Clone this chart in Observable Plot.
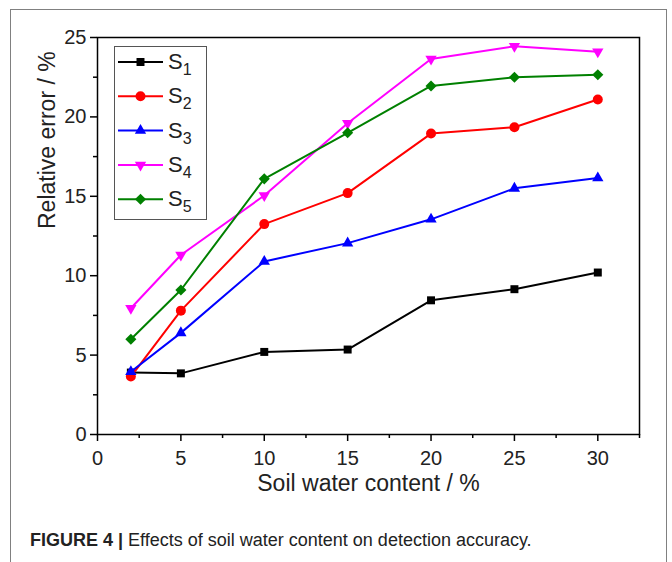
<!DOCTYPE html>
<html>
<head>
<meta charset="utf-8">
<script src="https://cdn.jsdelivr.net/npm/d3@7"></script>
<script src="https://cdn.jsdelivr.net/npm/@observablehq/plot@0.6"></script>
<style>
  html, body { margin: 0; padding: 0; background: #fff; }
  #wrap { position: relative; width: 672px; height: 562px; overflow: hidden; background: #fff; font-family: "Liberation Sans", Arial, sans-serif; }
  #border { position: absolute; left: 10px; top: 9px; width: 657px; height: 600px; border: 1px solid #808080; box-sizing: border-box; }
  #chart { position: absolute; left: 0; top: 0; }
  #caption { position: absolute; left: 30px; top: 530px; font-size: 18px; color: #222; white-space: nowrap; }
  #caption b { font-weight: bold; }
</style>
</head>
<body>
<div id="wrap">
  <div id="border"></div>
  <div id="chart"></div>
  <div id="caption"><b>FIGURE 4 |</b> Effects of soil water content on detection accuracy.</div>
</div>
<script>
// ---- data ----
const waterContent = [2, 5, 10, 15, 20, 25, 30];
const s1 = [3.9, 3.85, 5.2, 5.35, 8.45, 9.15, 10.2];
const s2 = [3.65, 7.8, 13.25, 15.2, 18.95, 19.35, 21.1];
const s3 = [3.95, 6.4, 10.9, 12.05, 13.55, 15.5, 16.15];
const s4 = [7.95, 11.3, 15.05, 19.6, 23.65, 24.45, 24.1];
const s5 = [6.0, 9.1, 16.1, 19.0, 21.95, 22.5, 22.65];
const seriesNames = ["S1", "S2", "S3", "S4", "S5"];
const seriesValues = [s1, s2, s3, s4, s5];
const xTicks = [0, 5, 10, 15, 20, 25, 30];
const xMinorTicks = [2.5, 7.5, 12.5, 17.5, 22.5, 27.5, 32.5];
const yTicks = [0, 5, 10, 15, 20, 25];
const yMinorTicks = [2.5, 7.5, 12.5, 17.5, 22.5];
const xLabel = "Soil water content / %";
const yLabel = "Relative error / %";

// ---- styles ----
const styles = [
  {color: "#000000", symbol: "square", d3sym: d3.symbolSquare, r: 4.5, rotate: 0},
  {color: "#ff0000", symbol: "circle", d3sym: d3.symbolCircle, r: 5, rotate: 0},
  {color: "#0000ff", symbol: "triangle", d3sym: d3.symbolTriangle, r: 4.2, rotate: 0},
  {color: "#ff00ff", symbol: "triangle", d3sym: d3.symbolTriangle, r: 4.2, rotate: 180},
  {color: "#008000", symbol: "diamond2", d3sym: d3.symbolDiamond2, r: 5, rotate: 0}
];

const font = "Liberation Sans, Arial, sans-serif";
const marks = [];
seriesNames.forEach((name, i) => {
  const rows = waterContent.map((x, j) => ({x, y: seriesValues[i][j], name}));
  const st = styles[i];
  marks.push(Plot.line(rows, {x: "x", y: "y", stroke: st.color, strokeWidth: 2}));
  marks.push(Plot.dot(rows, {x: "x", y: "y", fill: st.color, stroke: "none", symbol: st.symbol, r: st.r, rotate: st.rotate}));
});

const plot = Plot.plot({
  width: 672,
  height: 500,
  marginTop: 37,
  marginLeft: 97,
  marginRight: 33,
  marginBottom: 66,
  style: {fontFamily: font, background: "transparent", color: "#222"},
  x: {domain: [0, 32.5]},
  y: {domain: [0, 25]},
  marks: [
    Plot.axisX({ticks: xTicks, tickSize: 7, tickPadding: 9, fontSize: 20, label: null, stroke: "#000", strokeWidth: 1.5, tickFormat: d => d}),
    Plot.axisX({ticks: xMinorTicks, tickSize: 4, text: null, label: null, stroke: "#000", strokeWidth: 1.5}),
    Plot.axisY({ticks: yTicks, tickSize: 7, tickPadding: 4, fontSize: 20, label: null, stroke: "#000", strokeWidth: 1.5, tickFormat: d => d}),
    Plot.axisY({ticks: yMinorTicks, tickSize: 4, text: null, label: null, stroke: "#000", strokeWidth: 1.5}),
    ...marks,
    Plot.frame({stroke: "#000", strokeWidth: 1.5}),
    Plot.text([xLabel], {frameAnchor: "bottom", dy: 56, text: d => d, fontSize: 23, fill: "#222"}),
    Plot.text([yLabel], {frameAnchor: "left", dx: -50, dy: -7, rotate: -90, text: d => d, fontSize: 23, fill: "#222"})
  ]
});
document.getElementById("chart").appendChild(plot);

// ---- legend ----
const svg = d3.select(plot);
const lg = svg.append("g").attr("text-anchor", "start");
lg.append("rect").attr("x", 114.5).attr("y", 46.5).attr("width", 92).attr("height", 173)
  .attr("fill", "#fff").attr("stroke", "#555").attr("stroke-width", 1);
seriesNames.forEach((name, i) => {
  const st = styles[i];
  const cy = 62 + i * 34.3;
  lg.append("line").attr("x1", 118).attr("x2", 163).attr("y1", cy).attr("y2", cy)
    .attr("stroke", st.color).attr("stroke-width", 2);
  lg.append("path").attr("d", d3.symbol(st.d3sym, Math.PI * st.r * st.r)())
    .attr("transform", `translate(140.5,${cy}) rotate(${st.rotate})`).attr("fill", st.color);
  const t = lg.append("text").attr("x", 168).attr("y", cy + 7).attr("font-size", 22)
    .attr("font-family", font).attr("fill", "#222").attr("text-anchor", "start");
  t.append("tspan").text(name[0]);
  t.append("tspan").attr("dy", 6).attr("font-size", 16).text(name.slice(1));
});
</script>
</body>
</html>
